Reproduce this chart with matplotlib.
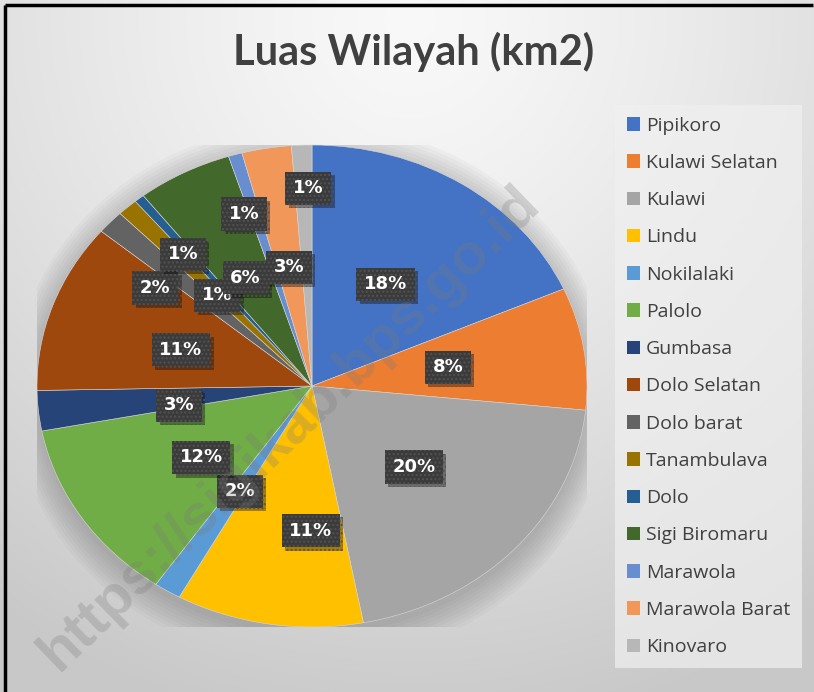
import numpy as np
import matplotlib
matplotlib.use("Agg")
import matplotlib.pyplot as plt
from matplotlib.patches import Patch, Ellipse
from matplotlib.lines import Line2D
import matplotlib.patheffects as pe

# ---- data ----
title = "Luas Wilayah (km2)"
kecamatan = ["Pipikoro", "Kulawi Selatan", "Kulawi", "Lindu", "Nokilalaki", "Palolo",
             "Gumbasa", "Dolo Selatan", "Dolo barat", "Tanambulava", "Dolo",
             "Sigi Biromaru", "Marawola", "Marawola Barat", "Kinovaro"]
luas_km2 = [956, 426, 1060, 572, 83, 644, 140, 592, 83, 62, 31, 291, 42, 151, 62]
colors = ["#4472C4", "#ED7D31", "#A5A5A5", "#FFC000", "#5B9BD5", "#70AD47",
          "#264478", "#9E480E", "#636363", "#997300", "#255E91", "#43682B",
          "#698ED0", "#F1975A", "#B7B7B7"]
watermark = "https://sigikab.bps.go.id"

# label placement (angle offset from slice middle in degrees, radius fraction)
lbl_dang = [0.8, 0, 0.3, 8.6, 0.7, 3.3, 3.4, 1.9, 7.3, -1.5, 3.6, 0.5, 2.9, 0.1, -1.2]
lbl_rad = [0.5, 0.5, 0.5, 0.6, 0.51, 0.5, 0.49, 0.5, 0.7, 0.72, 0.51, 0.51, 0.755, 0.5, 0.82]

W, H = 814, 692
fig = plt.figure(figsize=(8.14, 6.92), dpi=100, facecolor="#e6e6e6")

# background gradient (pixel image)
yy, xx = np.mgrid[0:H, 0:W]
d = np.sqrt((xx - 410) ** 2 + (yy - 20) ** 2)
g = np.clip(d / 720, 0, 1)
shade = 0.975 - 0.19 * g ** 1.3
fig.figimage(np.dstack([shade, shade, shade]), xo=0, yo=0, origin="upper", zorder=-10)

# frame lines (left and top)
fig.add_artist(Line2D([5 / W, 5 / W], [0, 1 - 5 / H], color="black", lw=2.5,
                      solid_capstyle="butt"))
fig.add_artist(Line2D([5 / W, 0.999], [1 - 5 / H, 1 - 5 / H], color="black", lw=2.5,
                      solid_capstyle="butt"))

# pie axes (elliptical)
ax = fig.add_axes([37 / W, 65 / H, 550 / W, 482 / H])
ax.patch.set_visible(False)
for k in range(9):
    ax.add_patch(Ellipse((0, -0.03), 2 * (1.0 + 0.011 * k), 2 * (1.0 + 0.015 * k),
                         color="#555555", alpha=0.04, lw=0, zorder=0))
wedges, _ = ax.pie(luas_km2, colors=colors, startangle=90, counterclock=False,
                   wedgeprops=dict(edgecolor="#d8d8d8", linewidth=0.4), radius=1.0)
for w_ in wedges:
    w_.set_zorder(1)
ax.set_aspect("auto")
ax.set_xlim(-1, 1)
ax.set_ylim(-1, 1)
ax.axis("off")

total = sum(luas_km2)
for w_, v, da, r in zip(wedges, luas_km2, lbl_dang, lbl_rad):
    mid = np.deg2rad((w_.theta1 + w_.theta2) / 2 + da)
    x, y = r * np.cos(mid), r * np.sin(mid)
    txt = f"{round(v / total * 100):.0f}%"
    t = ax.text(x, y, txt, ha="center", va="center", fontsize=13, fontweight="bold",
                color="white", family="DejaVu Sans",
                bbox=dict(boxstyle="square,pad=0.42", facecolor="#3b3b3b",
                          edgecolor="#525252", hatch="....", linewidth=0),
                zorder=5)
    t.get_bbox_patch().set_path_effects([
        pe.SimplePatchShadow(offset=(2.5, -2.5), shadow_rgbFace="black", alpha=0.35),
        pe.Normal()])

# title
fig.text(414 / W, 1 - 52 / H, title, ha="center", va="center", fontsize=30,
         fontweight="bold", color="#404040", family="Lato")

# legend
handles = [Patch(facecolor=c, edgecolor="none") for c in colors]
leg = fig.legend(handles, kecamatan, loc="upper left",
                 bbox_to_anchor=(615 / W, 1 - 105 / H), frameon=True,
                 prop=dict(family="Open Sans", size=14), labelcolor="#404040",
                 handlelength=0.68, handleheight=0.68, handletextpad=0.32,
                 labelspacing=0.99, borderpad=0.6, borderaxespad=0)
leg.get_frame().set_facecolor("#f0f0f0")
leg.get_frame().set_alpha(0.7)
leg.get_frame().set_edgecolor("none")
leg.get_frame().set_boxstyle("square", pad=0)

# watermark
fig.text(290 / W, 1 - 428 / H, watermark, rotation=44, ha="center", va="center",
         fontsize=42, fontweight="bold", color="#7a7a7a", alpha=0.28,
         family="Liberation Sans", zorder=3)

fig.savefig("out.png", dpi=100, facecolor=fig.get_facecolor())
